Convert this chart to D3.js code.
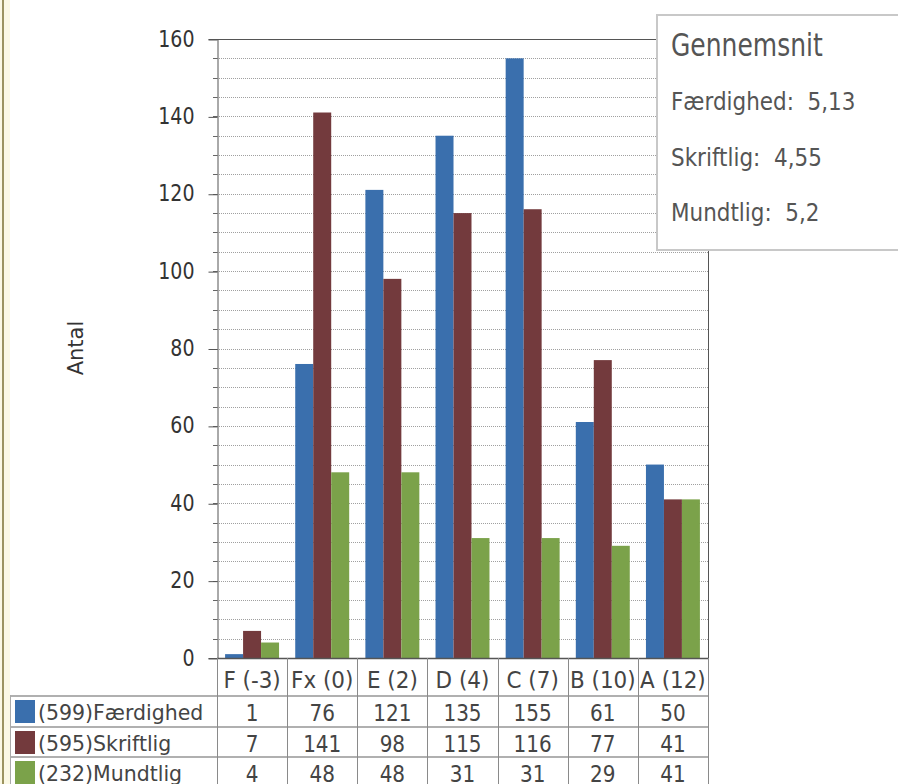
<!DOCTYPE html>
<html><head><meta charset="utf-8">
<script src="https://cdn.jsdelivr.net/npm/d3@7"></script>
<style>
body{margin:0;background:#fff;}
svg{display:block;font-family:"DejaVu Sans",Verdana,sans-serif;}
text{white-space:pre;}
</style></head>
<body><svg id="c" width="898" height="784"></svg>
<script>
const categories = ["F (-3)","Fx (0)","E (2)","D (4)","C (7)","B (10)","A (12)"];
const seriesNames = ["Færdighed","Skriftlig","Mundtlig"];
const seriesTotals = [599,595,232];
const faerdighed = [1,76,121,135,155,61,50];
const skriftlig = [7,141,98,115,116,77,41];
const mundtlig = [4,48,48,31,31,29,41];
const seriesValues = [faerdighed, skriftlig, mundtlig];
const colors = ["#3a6fad","#733a3d","#7ba24a"];
const yTicks = [0,20,40,60,80,100,120,140,160];
const gridValues = d3.range(0,161,5);
const avgTitle = "Gennemsnit";
const avgLabels = ["Færdighed:","Skriftlig:","Mundtlig:"];
const avgValues = ["5,13","4,55","5,2"];

const svg = d3.select("#c");
const L=217,R=708,T=39,B=658;
const y = d3.scaleLinear().domain([0,160]).range([B,T]);
const x0 = d3.scaleBand().domain(categories).range([L,R]).padding(0);
const x1 = d3.scaleBand().domain(seriesNames).range([0,x0.bandwidth()]).paddingInner(0).paddingOuter(0.45);

function txt(parent, x, yy, s, size, sy, anchor, fill){
  return parent.append("text")
    .attr("transform",`translate(${x},${yy}) scale(1,${sy})`)
    .attr("font-size",size).attr("fill",fill||"#444")
    .attr("text-anchor",anchor||"start").text(s);
}

// left frame stripe
svg.append("rect").attr("x",0).attr("y",0).attr("width",10).attr("height",784).attr("fill","#fbf9e4");
svg.append("rect").attr("x",2).attr("y",0).attr("width",2).attr("height",784).attr("fill","#9c9460");

// gridlines
svg.append("g").selectAll("line").data(gridValues.filter(v=>v>0&&v<160)).join("line")
  .attr("x1",L).attr("x2",R).attr("y1",d=>Math.round(y(d))+0.5).attr("y2",d=>Math.round(y(d))+0.5)
  .attr("stroke","#a0a0a0").attr("stroke-dasharray","1,1");

// minor ticks
svg.append("g").selectAll("line").data(gridValues).join("line")
  .attr("x1",L-4).attr("x2",L).attr("y1",d=>Math.round(y(d))+0.5).attr("y2",d=>Math.round(y(d))+0.5)
  .attr("stroke","#666");

// bars
const g = svg.append("g");
seriesNames.forEach((s,si)=>{
  g.selectAll(null).data(categories).join("rect")
    .attr("x",c=>x0(c)+x1(s))
    .attr("y",(c,i)=>y(seriesValues[si][i]))
    .attr("width",x1.bandwidth())
    .attr("height",(c,i)=>B-y(seriesValues[si][i]))
    .attr("fill",colors[si]);
});

// y axis
const yAxis = d3.axisLeft(y).tickValues(yTicks).tickSize(9).tickPadding(14);
const ya = svg.append("g").attr("transform",`translate(${L+0.5},0)`).call(yAxis);
ya.select(".domain").attr("stroke","#555");
ya.selectAll(".tick line").attr("stroke","#555").attr("transform","translate(0,0.5)");
ya.selectAll("text").attr("font-size",19).attr("fill","#333").attr("font-family","DejaVu Sans")
  .attr("dy",null).attr("y",null).attr("transform","translate(0,7) scale(1,1.22)");

// frame
svg.append("line").attr("x1",L).attr("x2",R).attr("y1",T+0.5).attr("y2",T+0.5).attr("stroke","#555");
svg.append("line").attr("x1",R+0.5).attr("x2",R+0.5).attr("y1",T).attr("y2",B).attr("stroke","#555");
svg.append("line").attr("x1",L).attr("x2",R+1).attr("y1",B+0.5).attr("y2",B+0.5).attr("stroke","#555").attr("stroke-width",1.5);

// y label
svg.append("text").attr("transform","translate(83,348) rotate(-90)").attr("text-anchor","middle")
  .attr("font-size",21).attr("fill","#333").text("Antal");

// table
const rowLines=[696,727,757,788];
const tbl = svg.append("g");
tbl.selectAll("line.h").data(rowLines.slice(0,3)).join("line")
  .attr("x1",10).attr("x2",R+1).attr("y1",d=>d).attr("y2",d=>d).attr("stroke","#b0b0b0").attr("stroke-width",2);
const vx = categories.map(c=>x0(c)).concat([R]);
tbl.selectAll("line.v").data(vx).join("line")
  .attr("x1",d=>Math.round(d)+0.5).attr("x2",d=>Math.round(d)+0.5).attr("y1",B).attr("y2",784)
  .attr("stroke","#8a8a8a");
tbl.append("line").attr("x1",10.5).attr("x2",10.5).attr("y1",695).attr("y2",784).attr("stroke","#aaa");
categories.forEach(c=>txt(tbl, x0(c)+x0.bandwidth()/2, 688, c, 21.5, 1.05, "middle"));
seriesNames.forEach((s,si)=>{
  const top=rowLines[si];
  tbl.append("rect").attr("x",15).attr("y",top+4).attr("width",20).attr("height",23).attr("fill",colors[si]);
  txt(tbl, 38, top+24, `(${seriesTotals[si]})${s}`, 20.5, 1.02, "start");
  categories.forEach((c,i)=>txt(tbl, x0(c)+x0.bandwidth()/2, top+24.5, String(seriesValues[si][i]), 20, 1.13, "middle"));
});

// average legend box
const lg = svg.append("g");
lg.append("rect").attr("x",657).attr("y",15).attr("width",260).attr("height",235)
  .attr("fill","#fff").attr("stroke","#c8c8c8").attr("stroke-width",2);
txt(lg, 671, 56, avgTitle, 25, 1.3, "start", "#555");
avgLabels.forEach((l,i)=>{
  const t = txt(lg, 671, [110,166,221][i], "", 21.5, 1.15, "start", "#555");
  t.text(l + "  " + avgValues[i]);
});
</script></body></html>
